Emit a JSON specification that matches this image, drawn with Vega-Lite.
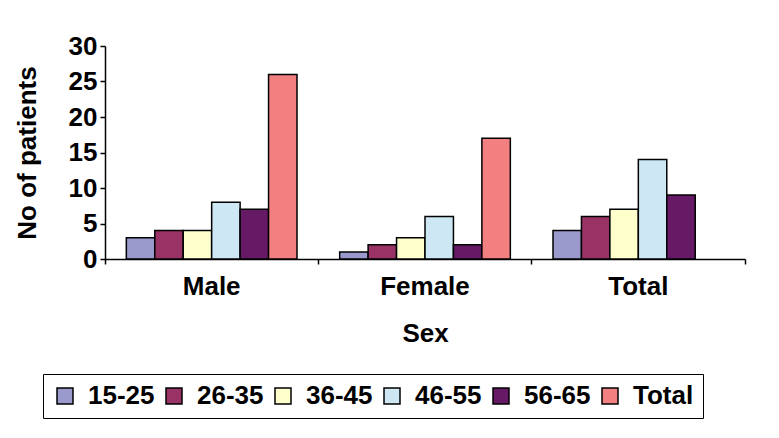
{
  "$schema": "https://vega.github.io/schema/vega-lite/v6.json",
  "autosize": {"type": "none"},
  "padding": {"left": 105, "top": 46, "right": 34, "bottom": 179},
  "width": 640,
  "height": 213,
  "background": "white",
  "config": {
    "view": {"stroke": null},
    "font": "Liberation Sans",
    "axis": {
      "labelFont": "Liberation Sans", "labelFontWeight": "bold", "labelFontSize": 26, "labelColor": "black",
      "titleFont": "Liberation Sans", "titleFontWeight": "bold", "titleFontSize": 26, "titleColor": "black",
      "domainColor": "black", "domainWidth": 1.5, "tickColor": "black", "tickWidth": 1.5, "tickSize": 5,
      "grid": false
    }
  },
  "data": {
    "values": [
      {"sex": "Male", "age": "15-25", "count": 3},
      {"sex": "Male", "age": "26-35", "count": 4},
      {"sex": "Male", "age": "36-45", "count": 4},
      {"sex": "Male", "age": "46-55", "count": 8},
      {"sex": "Male", "age": "56-65", "count": 7},
      {"sex": "Male", "age": "Total", "count": 26},
      {"sex": "Female", "age": "15-25", "count": 1},
      {"sex": "Female", "age": "26-35", "count": 2},
      {"sex": "Female", "age": "36-45", "count": 3},
      {"sex": "Female", "age": "46-55", "count": 6},
      {"sex": "Female", "age": "56-65", "count": 2},
      {"sex": "Female", "age": "Total", "count": 17},
      {"sex": "Total", "age": "15-25", "count": 4},
      {"sex": "Total", "age": "26-35", "count": 6},
      {"sex": "Total", "age": "36-45", "count": 7},
      {"sex": "Total", "age": "46-55", "count": 14},
      {"sex": "Total", "age": "56-65", "count": 9}
    ]
  },
  "mark": {"type": "bar", "stroke": "black", "strokeWidth": 1.5},
  "encoding": {
    "x": {
      "field": "sex", "type": "nominal", "sort": ["Male", "Female", "Total"],
      "scale": {"paddingInner": 0, "paddingOuter": 0},
      "axis": {"title": "Sex", "labelAngle": 0, "labelPadding": 9, "titlePadding": 21, "bandPosition": 1, "tickExtra": true}
    },
    "xOffset": {
      "field": "age", "type": "nominal",
      "sort": ["15-25", "26-35", "36-45", "46-55", "56-65", "Total"],
      "scale": {"domain": ["15-25", "26-35", "36-45", "46-55", "56-65", "Total"], "paddingInner": 0, "paddingOuter": 0.75}
    },
    "y": {
      "field": "count", "type": "quantitative",
      "scale": {"domain": [0, 30], "nice": false},
      "axis": {"title": "No of patients", "values": [0, 5, 10, 15, 20, 25, 30], "labelPadding": 3, "titlePadding": 28}
    },
    "color": {
      "field": "age", "type": "nominal",
      "scale": {
        "domain": ["15-25", "26-35", "36-45", "46-55", "56-65", "Total"],
        "range": ["#9999CC", "#993366", "#FFFFCC", "#CDE8F4", "#661A66", "#F28080"]
      },
      "legend": {
        "title": null, "orient": "none", "legendX": -62, "legendY": 328,
        "direction": "horizontal", "columns": 6,
        "strokeColor": "black", "padding": 9,
        "symbolType": "square", "symbolSize": 256, "symbolStrokeColor": "black", "symbolStrokeWidth": 1.5,
        "labelFont": "Liberation Sans", "labelFontWeight": "bold", "labelFontSize": 26, "labelColor": "black",
        "labelOffset": 10, "columnPadding": 6
      }
    }
  }
}
